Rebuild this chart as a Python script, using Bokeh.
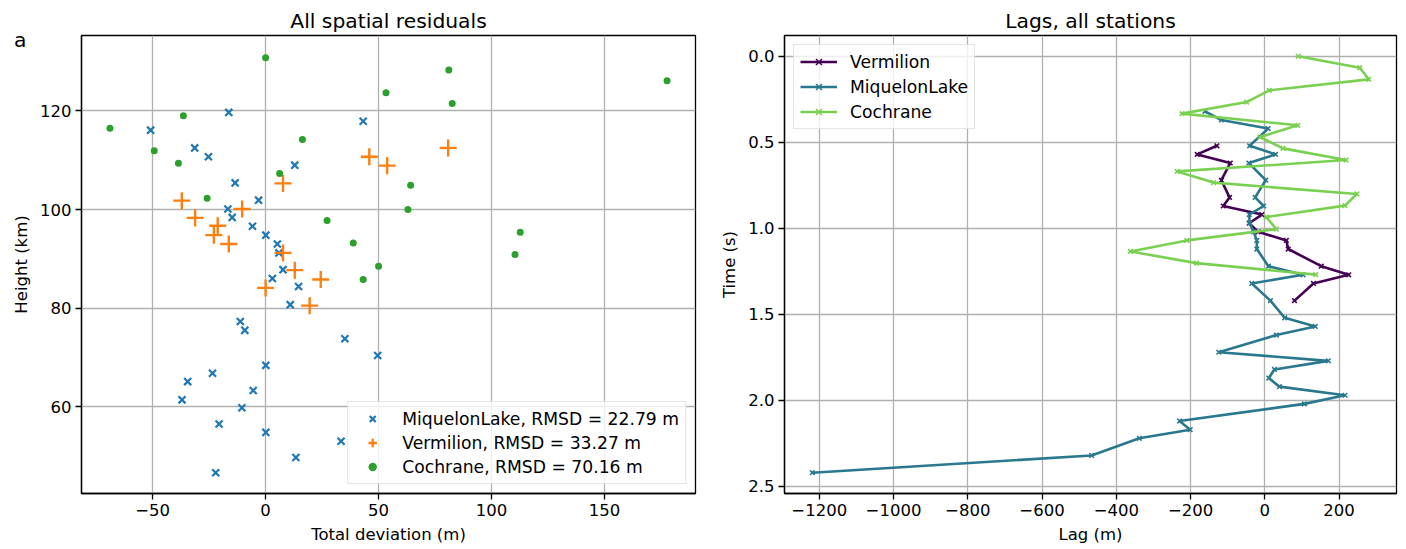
from bokeh.plotting import figure
from bokeh.layouts import row
from bokeh.models import (Range1d, FixedTicker, Legend, LegendItem, LinearAxis,
                          PrintfTickFormatter)
from bokeh.embed import file_html
from bokeh.resources import INLINE

FONT = "DejaVu Sans"

# ---------------- data: left panel (spatial residuals) ----------------
miq_dev = [-16.3, 43.2, -50.9, -31.4, -25.3, 12.9, -13.5, -3.1, -16.7, -14.8, -5.8, 0.1, 5.2, 5.9,
           7.7, 3.0, 14.6, 10.9, -11.2, -9.2, 35.1, 49.6, 0.1, -23.5, -34.5, -5.5, -37.0, -10.5,
           -20.6, 0.1, 33.4, 13.4, -22.1]
miq_h = [119.7, 117.9, 116.1, 112.5, 110.7, 109.0, 105.4, 101.9, 100.1, 98.4, 96.6, 94.8, 93.0, 91.2,
         87.8, 86.0, 84.4, 80.7, 77.3, 75.5, 73.8, 70.4, 68.4, 66.8, 65.1, 63.3, 61.4, 59.8,
         56.5, 54.8, 53.0, 49.7, 46.6]
ver_dev = [80.8, 45.9, 53.8, 7.7, -37.1, -10.4, -31.2, -21.2, -22.9, -16.3, 7.7, 12.9, 24.4, 0.0, 19.5]
ver_h = [112.5, 110.7, 108.9, 105.3, 101.8, 100.1, 98.3, 96.7, 94.8, 93.0, 91.2, 87.7, 85.8, 84.1, 80.5]
coc_dev = [0.0, 81.1, 177.7, 53.3, 82.6, -36.4, -68.9, 16.3, -49.3, -38.6, 6.2, 64.2, -25.9, 63.0,
           27.2, 112.7, 38.8, 110.4, 50.0, 43.2]
coc_h = [130.8, 128.3, 126.1, 123.7, 121.5, 119.0, 116.5, 114.2, 111.9, 109.4, 107.3, 104.9, 102.3, 100.0,
         97.8, 95.4, 93.2, 90.9, 88.5, 85.8]
left_labels = ["MiquelonLake, RMSD = 22.79 m", "Vermilion, RMSD = 33.27 m", "Cochrane, RMSD = 70.16 m"]
panel_letter = "a"

# ---------------- data: right panel (lags) ----------------
ver_t = [0.52, 0.57, 0.62, 0.72, 0.82, 0.87, 0.92, 0.97, 1.02, 1.07, 1.12, 1.22, 1.27, 1.32, 1.42]
ver_lag = [-129, -182, -93, -117, -95, -112, -8, -42, -18, 58, 63, 152, 226, 131, 80]
miq_t = [0.32, 0.37, 0.42, 0.52, 0.57, 0.62, 0.72, 0.82, 0.87, 0.92, 0.97, 1.02, 1.07, 1.12, 1.22,
         1.27, 1.32, 1.42, 1.52, 1.57, 1.62, 1.72, 1.77, 1.82, 1.87, 1.92, 1.97, 2.02, 2.12, 2.17,
         2.22, 2.32, 2.42]
miq_lag = [-161, -117, 9, -41, 29, -43, 2.5, -26, -3, -42, -41, -30, -21.5, -21.5, 9.7,
           103, -35, 15, 53.7, 136, 31.3, -124, 171, 26, 10.8, 39.4, 216, 106.6, -229.7, -201,
           -338, -466.5, -1218.7]
coc_t = [0.0, 0.066, 0.134, 0.198, 0.266, 0.333, 0.401, 0.469, 0.535, 0.603, 0.669, 0.734, 0.800,
         0.868, 0.934, 1.004, 1.070, 1.134, 1.202, 1.269]
coc_lag = [90, 256, 280, 12, -49, -223, 89, -13, 49, 219, -236, -138, 248, 216, 4, 31, -210, -362, -184, 137]

left_xticks = [-50, 0, 50, 100, 150]
left_yticks = [60, 80, 100, 120]
right_xticks = [-1200, -1000, -800, -600, -400, -200, 0, 200]
right_yticks = [0.0, 0.5, 1.0, 1.5, 2.0, 2.5]

C_BLUE, C_ORANGE, C_GREEN = "#1f77b4", "#ff7f0e", "#2ca02c"
V_PURPLE, V_TEAL, V_LIME = "#440154", "#2a788e", "#7ad151"

H = 546


def minus(v):
    s = ("%g" % v)
    return s.replace("-", "\u2212")


def style(p, xticks, yticks, xlabel, ylabel):
    p.outline_line_color = "black"
    p.outline_line_width = 1.3
    p.title.text_font = FONT
    p.title.text_font_size = "20.3px"
    p.title.text_font_style = "normal"
    p.title.align = "center"
    p.title.standoff = 5
    p.title.text_color = "black"
    for ax in (p.xaxis[0], p.yaxis[0]):
        ax.axis_line_color = "black"
        ax.axis_line_width = 1.3
        ax.major_tick_line_color = "black"
        ax.major_tick_line_width = 1.3
        ax.major_tick_out = 6
        ax.major_tick_in = 0
        ax.minor_tick_line_color = None
        ax.major_label_text_font = FONT
        ax.major_label_text_font_size = "16.5px"
        ax.major_label_text_color = "black"
        ax.axis_label_text_font = FONT
        ax.axis_label_text_font_size = "16.5px"
        ax.axis_label_text_font_style = "normal"
        ax.axis_label_text_color = "black"
        ax.major_label_standoff = 4
        ax.axis_label_standoff = 6
    p.xaxis[0].ticker = FixedTicker(ticks=xticks)
    p.yaxis[0].ticker = FixedTicker(ticks=yticks)
    p.xaxis[0].major_label_overrides = {float(v): minus(v) for v in xticks if v < 0}
    p.xaxis[0].axis_label = xlabel
    p.yaxis[0].axis_label = ylabel
    for g in (p.xgrid[0], p.ygrid[0]):
        g.grid_line_color = "#b0b0b0"
        g.grid_line_width = 1.3


def style_legend(lg, glyph_w, standoff):
    lg.label_text_font = FONT
    lg.label_text_font_size = "17.2px"
    lg.label_text_color = "black"
    lg.background_fill_alpha = 0.8
    lg.border_line_color = "#cccccc"
    lg.border_line_width = 1.2
    lg.glyph_width = glyph_w
    lg.glyph_height = 21
    lg.spacing = 3
    lg.padding = 6
    lg.margin = 9
    lg.label_standoff = standoff


# ---------------- left figure ----------------
p1 = figure(width=708, height=H, output_backend="svg", toolbar_location=None,
            title="All spatial residuals",
            x_range=Range1d(-81.5, 190.3), y_range=Range1d(42.4, 135.3),
            min_border_left=81, min_border_right=13, min_border_top=35, min_border_bottom=53)
style(p1, left_xticks, left_yticks, "Total deviation (m)", "Height (km)")

r_miq = p1.scatter(miq_dev, miq_h, marker="x", size=10, line_width=2.2, color=C_BLUE)
r_ver = p1.scatter(ver_dev, ver_h, marker="cross", size=17, line_width=2.4, color=C_ORANGE)
r_coc = p1.scatter(coc_dev, coc_h, marker="circle", size=7, line_color=None, fill_color=C_GREEN)

lg1 = Legend(items=[LegendItem(label=left_labels[0], renderers=[r_miq]),
                    LegendItem(label=left_labels[1], renderers=[r_ver]),
                    LegendItem(label=left_labels[2], renderers=[r_coc])],
             location="bottom_right")
style_legend(lg1, 36, 12)
p1.add_layout(lg1)

# panel letter drawn as the single tick label of an outer, otherwise invisible axis
letter_y = 134.4
ax_a = LinearAxis(ticker=FixedTicker(ticks=[letter_y]),
                  major_label_overrides={letter_y: panel_letter},
                  axis_line_color=None, major_tick_line_color=None, minor_tick_line_color=None,
                  major_tick_out=0, major_tick_in=0, major_label_standoff=-17,
                  major_label_text_font=FONT, major_label_text_font_size="20.3px",
                  major_label_text_color="black")
p1.add_layout(ax_a, "left")

# ---------------- right figure ----------------
p2 = figure(width=690, height=H, output_backend="svg", toolbar_location=None,
            title="Lags, all stations",
            x_range=Range1d(-1293.6, 354.7), y_range=Range1d(2.541, -0.121),
            min_border_left=76, min_border_right=2, min_border_top=35, min_border_bottom=53)
style(p2, right_xticks, right_yticks, "Lag (m)", "Time (s)")
p2.yaxis[0].formatter = PrintfTickFormatter(format="%.1f")

series = [("Vermilion", ver_lag, ver_t, V_PURPLE),
          ("MiquelonLake", miq_lag, miq_t, V_TEAL),
          ("Cochrane", coc_lag, coc_t, V_LIME)]
items = []
for name, xs, ys, col in series:
    rl = p2.line(xs, ys, line_color=col, line_width=2.6)
    rs = p2.scatter(xs, ys, marker="x", size=6.5, line_width=1.6, color=col)
    items.append(LegendItem(label=name, renderers=[rl, rs]))

lg2 = Legend(items=items, location="top_left")
style_legend(lg2, 37, 13)
lg2.spacing = 4
p2.add_layout(lg2)

layout = row(p1, p2)
open("out.html", "w").write(file_html(layout, INLINE))
